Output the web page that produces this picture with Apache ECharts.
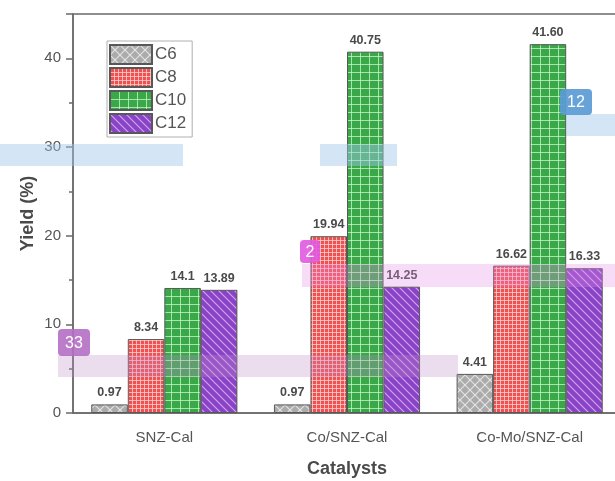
<!DOCTYPE html>
<html>
<head>
<meta charset="utf-8">
<script src="https://cdn.jsdelivr.net/npm/echarts@6/dist/echarts.min.js"></script>
<style>
  html, body { margin: 0; padding: 0; background: #fff; }
  #chart { width: 615px; height: 481px; }
</style>
</head>
<body>
<div id="chart"></div>
<script>
// Product yields per catalyst (wt %)
const categories = ['SNZ-Cal', 'Co/SNZ-Cal', 'Co-Mo/SNZ-Cal'];
const seriesNames = ['C6', 'C8', 'C10', 'C12'];
const C6  = ['0.97', '0.97', '4.41'];
const C8  = ['8.34', '19.94', '16.62'];
const C10 = ['14.1', '40.75', '41.60'];
const C12 = ['13.89', '14.25', '16.33'];
const yTicks = [0, 10, 20, 30, 40];

// Hatched fills painted on small tiles
function tile(w, h, bg, draw) {
  const c = document.createElement('canvas');
  c.width = w; c.height = h;
  const g = c.getContext('2d');
  g.fillStyle = bg; g.fillRect(0, 0, w, h);
  draw(g, w, h);
  return { image: c, repeat: 'repeat' };
}
function gridLines(g, w, h, col) {
  g.strokeStyle = col; g.lineWidth = 1;
  g.beginPath();
  g.moveTo(0.5, 0); g.lineTo(0.5, h);
  g.moveTo(0, 0.5); g.lineTo(w, 0.5);
  g.stroke();
}
function diag(g, s, col, back) {
  g.strokeStyle = col; g.lineWidth = 1.2;
  g.beginPath();
  if (back) {
    g.moveTo(0, 0); g.lineTo(s, s);
    g.moveTo(-s / 2, s / 2); g.lineTo(s / 2, 3 * s / 2);
    g.moveTo(s / 2, -s / 2); g.lineTo(3 * s / 2, s / 2);
  } else {
    g.moveTo(0, s); g.lineTo(s, 0);
    g.moveTo(-s / 2, s / 2); g.lineTo(s / 2, -s / 2);
    g.moveTo(s / 2, 3 * s / 2); g.lineTo(3 * s / 2, s / 2);
  }
  g.stroke();
}
const fills = {
  C6: tile(10, 10, '#ababab', (g, w) => { diag(g, w, 'rgba(235,235,235,0.85)', true); diag(g, w, 'rgba(235,235,235,0.85)', false); }),
  C8: tile(4, 4, '#ef5050', (g, w, h) => gridLines(g, w, h, 'rgba(255,215,215,0.75)')),
  C10: tile(9, 8, '#3aa749', (g, w, h) => gridLines(g, w, h, 'rgba(210,255,215,0.7)')),
  C12: tile(8, 8, '#8a42c6', (g, w) => diag(g, w, 'rgba(225,200,250,0.75)', true))
};
const values = { C6, C8, C10, C12 };

const chart = echarts.init(document.getElementById('chart'));
const font = '"Liberation Sans", Arial, sans-serif';

const series = seriesNames.map(name => ({
  name,
  type: 'bar',
  data: values[name].map(Number),
  barGap: '0%',
  barCategoryGap: '20%',
  itemStyle: { color: fills[name], borderColor: '#585858', borderWidth: 1 },
  label: {
    show: true,
    position: 'top',
    distance: 5,
    fontFamily: font,
    fontWeight: 'bold',
    fontSize: 12.5,
    color: '#4a4a4a',
    formatter: p => values[name][p.dataIndex]
  }
}));

// Highlight tags with their bands
const Z = 1000;
function tag(x, y, w, h, fill, text) {
  return [
    { type: 'rect', silent: true, z: Z + 2, shape: { x, y, width: w, height: h, r: 4 }, style: { fill } },
    { type: 'text', silent: true, z: Z + 3, style: { x: x + w / 2, y: y + h / 2 + 1, text, fill: '#fff', font: '16px ' + font, align: 'center', verticalAlign: 'middle' } }
  ];
}
function band(x, y, w, h, fill) {
  return { type: 'rect', silent: true, z: Z, shape: { x, y, width: w, height: h }, style: { fill } };
}
const blue = 'rgba(160,200,235,0.45)';
const pink = 'rgba(230,140,230,0.3)';
const lilac = 'rgba(190,140,200,0.3)';

chart.setOption({
  animation: false,
  backgroundColor: '#fff',
  textStyle: { fontFamily: font },
  grid: {
    left: 73, right: -6, top: 14, bottom: 68,
    outerBoundsMode: 'none', containLabel: false,
    show: true, borderColor: '#6a6a6a', borderWidth: 1.5
  },
  legend: {
    orient: 'vertical',
    left: 107, top: 41,
    padding: [3, 6, 3, 2],
    itemWidth: 42, itemHeight: 19, itemGap: 2,
    backgroundColor: '#fff',
    borderColor: '#b0b0b0', borderWidth: 1,
    icon: 'rect',
    textStyle: { fontSize: 17, lineHeight: 18, color: '#555', padding: [0, 0, 0, -2] },
    data: seriesNames
  },
  xAxis: [{
    type: 'category',
    data: categories,
    name: 'Catalysts',
    nameLocation: 'middle',
    nameGap: 47,
    nameTextStyle: { fontSize: 18, fontWeight: 'bold', color: '#4a4a4a' },
    axisLine: { lineStyle: { color: '#6a6a6a', width: 1.5 } },
    axisTick: { alignWithLabel: true, length: 7, lineStyle: { color: '#6a6a6a', width: 1.5 } },
    axisLabel: { fontSize: 15, color: '#555', margin: 17 }
  }, {
    type: 'category',
    data: categories,
    position: 'bottom',
    axisLine: { show: false },
    axisTick: { inside: true, length: 5, lineStyle: { color: '#6a6a6a', width: 1.5 } },
    axisLabel: { show: false }
  }],
  yAxis: {
    type: 'value',
    min: yTicks[0], max: 45, interval: yTicks[1] - yTicks[0],
    name: 'Yield (%)',
    nameLocation: 'middle',
    nameGap: 36,
    nameMoveOverlap: false,
    nameTextStyle: { fontSize: 18, fontWeight: 'bold', color: '#4a4a4a' },
    axisLine: { show: true, lineStyle: { color: '#6a6a6a', width: 1.5 } },
    axisTick: { show: true, length: 7, lineStyle: { color: '#6a6a6a', width: 1.5 } },
    minorTick: { show: true, splitNumber: 2, length: 4, lineStyle: { color: '#6a6a6a', width: 1.5 } },
    splitLine: { show: false },
    axisLabel: { fontSize: 15, color: '#555', margin: 12, showMaxLabel: false }
  },
  series,
  graphic: [
    band(0, 144, 183, 22, blue),
    band(320, 144, 77, 22, blue),
    band(566, 114, 49, 22, blue),
    ...tag(560, 89, 32, 26, 'rgba(91,155,213,0.92)', '12'),
    band(302, 264, 313, 23, pink),
    ...tag(300, 240, 20, 23, 'rgba(225,90,225,0.9)', '2'),
    band(58, 355, 400, 22, lilac),
    ...tag(58, 329, 32, 27, 'rgba(180,110,195,0.9)', '33')
  ]
});
</script>
</body>
</html>
